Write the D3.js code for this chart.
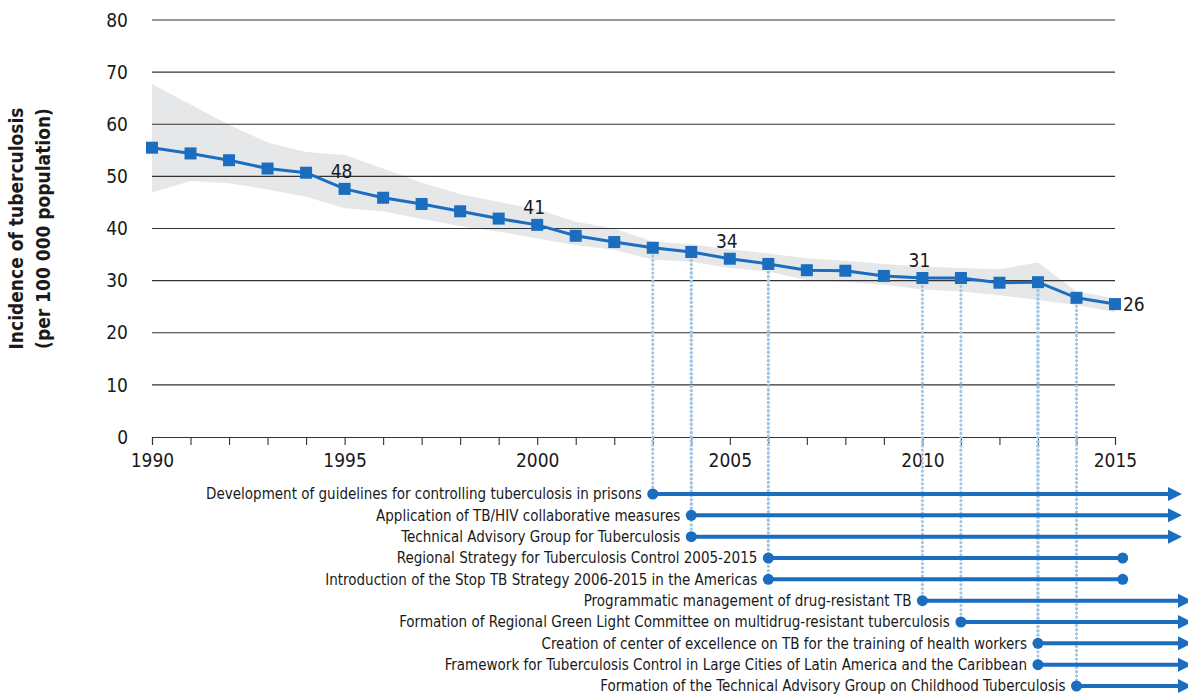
<!DOCTYPE html>
<html>
<head>
<meta charset="utf-8">
<script src="https://cdn.jsdelivr.net/npm/d3@7"></script>
<style>
  html, body { margin: 0; padding: 0; background: #fff; }
  svg { display: block; }
  .lbl { font-family: "DejaVu Sans Condensed", "Open Sans", sans-serif; fill: #1a1a1a; }
</style>
</head>
<body>
<svg id="chart" width="1188" height="698"></svg>
<script>
// Tuberculosis incidence in the Americas, 1990-2015, per 100 000 population
const years = d3.range(1990, 2016);
const incidence = [55.5, 54.4, 53.1, 51.5, 50.7, 47.6, 45.9, 44.7, 43.3, 41.9,
                   40.7, 38.6, 37.4, 36.3, 35.5, 34.2, 33.2, 32.0, 31.9, 30.9,
                   30.5, 30.5, 29.6, 29.7, 26.7, 25.5];
const upperBound = [67.7, 63.8, 59.9, 56.5, 54.7, 54.1, 51.5, 48.8, 46.6, 45.1,
                    43.7, 41.3, 40.0, 37.5, 37.0, 36.0, 35.2, 34.3, 33.8, 33.2,
                    32.7, 32.4, 32.2, 33.5, 27.9, 26.6];
const lowerBound = [46.9, 49.1, 48.7, 47.5, 46.1, 43.9, 43.3, 41.8, 40.5, 39.4,
                    38.1, 36.8, 35.9, 34.0, 33.6, 32.4, 31.7, 30.1, 29.8, 29.2,
                    28.3, 27.9, 27.2, 26.3, 25.3, 24.0];
const labelledYears = [1995, 2000, 2005, 2010, 2015];
const yTicks = [0, 10, 20, 30, 40, 50, 60, 70, 80];
const xTickLabels = [1990, 1995, 2000, 2005, 2010, 2015];

// Milestones: start year, end year (null = ongoing)
const milestoneNames = [
  "Development of guidelines for controlling tuberculosis in prisons",
  "Application of TB/HIV collaborative measures",
  "Technical Advisory Group for Tuberculosis",
  "Regional Strategy for Tuberculosis Control 2005-2015",
  "Introduction of the Stop TB Strategy 2006-2015 in the Americas",
  "Programmatic management of drug-resistant TB",
  "Formation of Regional Green Light Committee on multidrug-resistant tuberculosis",
  "Creation of center of excellence on TB for the training of health workers",
  "Framework for Tuberculosis Control in Large Cities of Latin America and the Caribbean",
  "Formation of the Technical Advisory Group on Childhood Tuberculosis"
];
const milestoneStart = [2003, 2004, 2004, 2006, 2006, 2010, 2011, 2013, 2013, 2014];
const milestoneEnd = [null, null, null, 2015.2, 2015.2, null, null, null, null, null];
const milestoneLongArrow = [false, false, false, false, false, true, true, true, true, true];

const blue = "#1b6ebf";
const dotBlue = "#a3c6e6";
const band = "#e6e7e8";

const svg = d3.select("#chart");
const x = d3.scaleLinear().domain([1990, 2015]).range([152, 1115]);
const y = d3.scaleLinear().domain([0, 80]).range([437, 20]);
const rowY = d3.scalePoint().domain(d3.range(milestoneNames.length)).range([494, 686]);

// Uncertainty band
svg.append("path")
  .datum(years.map((yr, i) => ({ yr, lo: lowerBound[i], hi: upperBound[i] })))
  .attr("fill", band)
  .attr("d", d3.area().x(d => x(d.yr)).y0(d => y(d.lo)).y1(d => y(d.hi)));

// Horizontal gridlines
svg.append("g").selectAll("line").data(yTicks.filter(t => t > 0)).join("line")
  .attr("x1", x(1990)).attr("x2", x(2015))
  .attr("y1", d => y(d)).attr("y2", d => y(d))
  .attr("stroke", "#333").attr("stroke-width", 1.1);

// Y tick labels
svg.append("g").selectAll("text").data(yTicks).join("text")
  .attr("class", "lbl")
  .attr("x", 128).attr("y", d => y(d)).attr("dy", "0.35em")
  .attr("text-anchor", "end").attr("font-size", 19)
  .text(d => d);

// X axis
const xAxis = d3.axisBottom(x)
  .tickValues(years)
  .tickSize(8)
  .tickFormat(d => xTickLabels.includes(d) ? d : "");
const gx = svg.append("g").attr("transform", `translate(0,${y(0)})`).call(xAxis);
gx.select(".domain").attr("stroke", "#333").attr("stroke-width", 1.1);
gx.selectAll(".tick line").attr("stroke", "#333").attr("stroke-width", 1.1);
gx.selectAll(".tick text")
  .attr("class", "lbl").attr("font-size", 19).attr("y", 17).attr("fill", "#1a1a1a");

// Y axis title
const title = svg.append("text")
  .attr("class", "lbl")
  .attr("transform", `translate(31,${y(40)}) rotate(-90)`)
  .attr("text-anchor", "middle")
  .attr("font-size", 19).attr("font-weight", "bold");
title.append("tspan").attr("x", 0).attr("dy", "-0.4em").text("Incidence of tuberculosis");
title.append("tspan").attr("x", 0).attr("dy", "1.42em").text("(per 100 000 population)");

// Dotted connectors from the curve down to each milestone
svg.append("g").selectAll("line").data(milestoneStart.map((s, i) => ({ s, i }))).join("line")
  .attr("x1", d => x(d.s)).attr("x2", d => x(d.s))
  .attr("y1", d => y(incidence[years.indexOf(d.s)]))
  .attr("y2", d => rowY(d.i))
  .attr("stroke", dotBlue).attr("stroke-width", 3.2)
  .attr("stroke-linecap", "round").attr("stroke-dasharray", "0,4.2");

// Incidence line
svg.append("path")
  .datum(years.map((yr, i) => ({ yr, v: incidence[i] })))
  .attr("fill", "none").attr("stroke", blue).attr("stroke-width", 3)
  .attr("d", d3.line().x(d => x(d.yr)).y(d => y(d.v)));

// Square markers
const ms = 12;
svg.append("g").selectAll("rect").data(years.map((yr, i) => ({ yr, v: incidence[i] }))).join("rect")
  .attr("x", d => x(d.yr) - ms / 2).attr("y", d => y(d.v) - ms / 2)
  .attr("width", ms).attr("height", ms).attr("fill", blue);

// Value labels
svg.append("g").selectAll("text").data(labelledYears).join("text")
  .attr("class", "lbl").attr("font-size", 19)
  .attr("x", d => d === 2015 ? x(d) + 8 : x(d) - 3)
  .attr("y", d => d === 2015 ? y(incidence[years.indexOf(d)]) : y(incidence[years.indexOf(d)]) - 11)
  .attr("dy", d => d === 2015 ? "0.35em" : "0")
  .attr("text-anchor", d => d === 2015 ? "start" : "middle")
  .text(d => Math.round(incidence[years.indexOf(d)]));

// Milestone timeline
const rows = svg.append("g").selectAll("g")
  .data(milestoneNames.map((name, i) => ({
    name, i, start: milestoneStart[i], end: milestoneEnd[i], long: milestoneLongArrow[i]
  })))
  .join("g").attr("transform", d => `translate(0,${rowY(d.i)})`);

rows.append("line")
  .attr("x1", d => x(d.start))
  .attr("x2", d => d.end !== null ? x(d.end) : (d.long ? 1180 : 1170))
  .attr("stroke", blue).attr("stroke-width", 4);

rows.filter(d => d.end === null).append("path")
  .attr("d", d => {
    const b = d.long ? 1178 : 1168, t = b + 14;
    return `M${b},-7L${t},0L${b},7Z`;
  })
  .attr("fill", blue);

rows.append("circle").attr("cx", d => x(d.start)).attr("r", 5.5).attr("fill", blue);
rows.filter(d => d.end !== null).append("circle")
  .attr("cx", d => x(d.end)).attr("r", 5.5).attr("fill", blue);

rows.append("text")
  .attr("class", "lbl").attr("font-size", 15)
  .attr("x", d => x(d.start) - 11).attr("dy", "0.35em")
  .attr("text-anchor", "end")
  .text(d => d.name);
</script>
</body>
</html>
